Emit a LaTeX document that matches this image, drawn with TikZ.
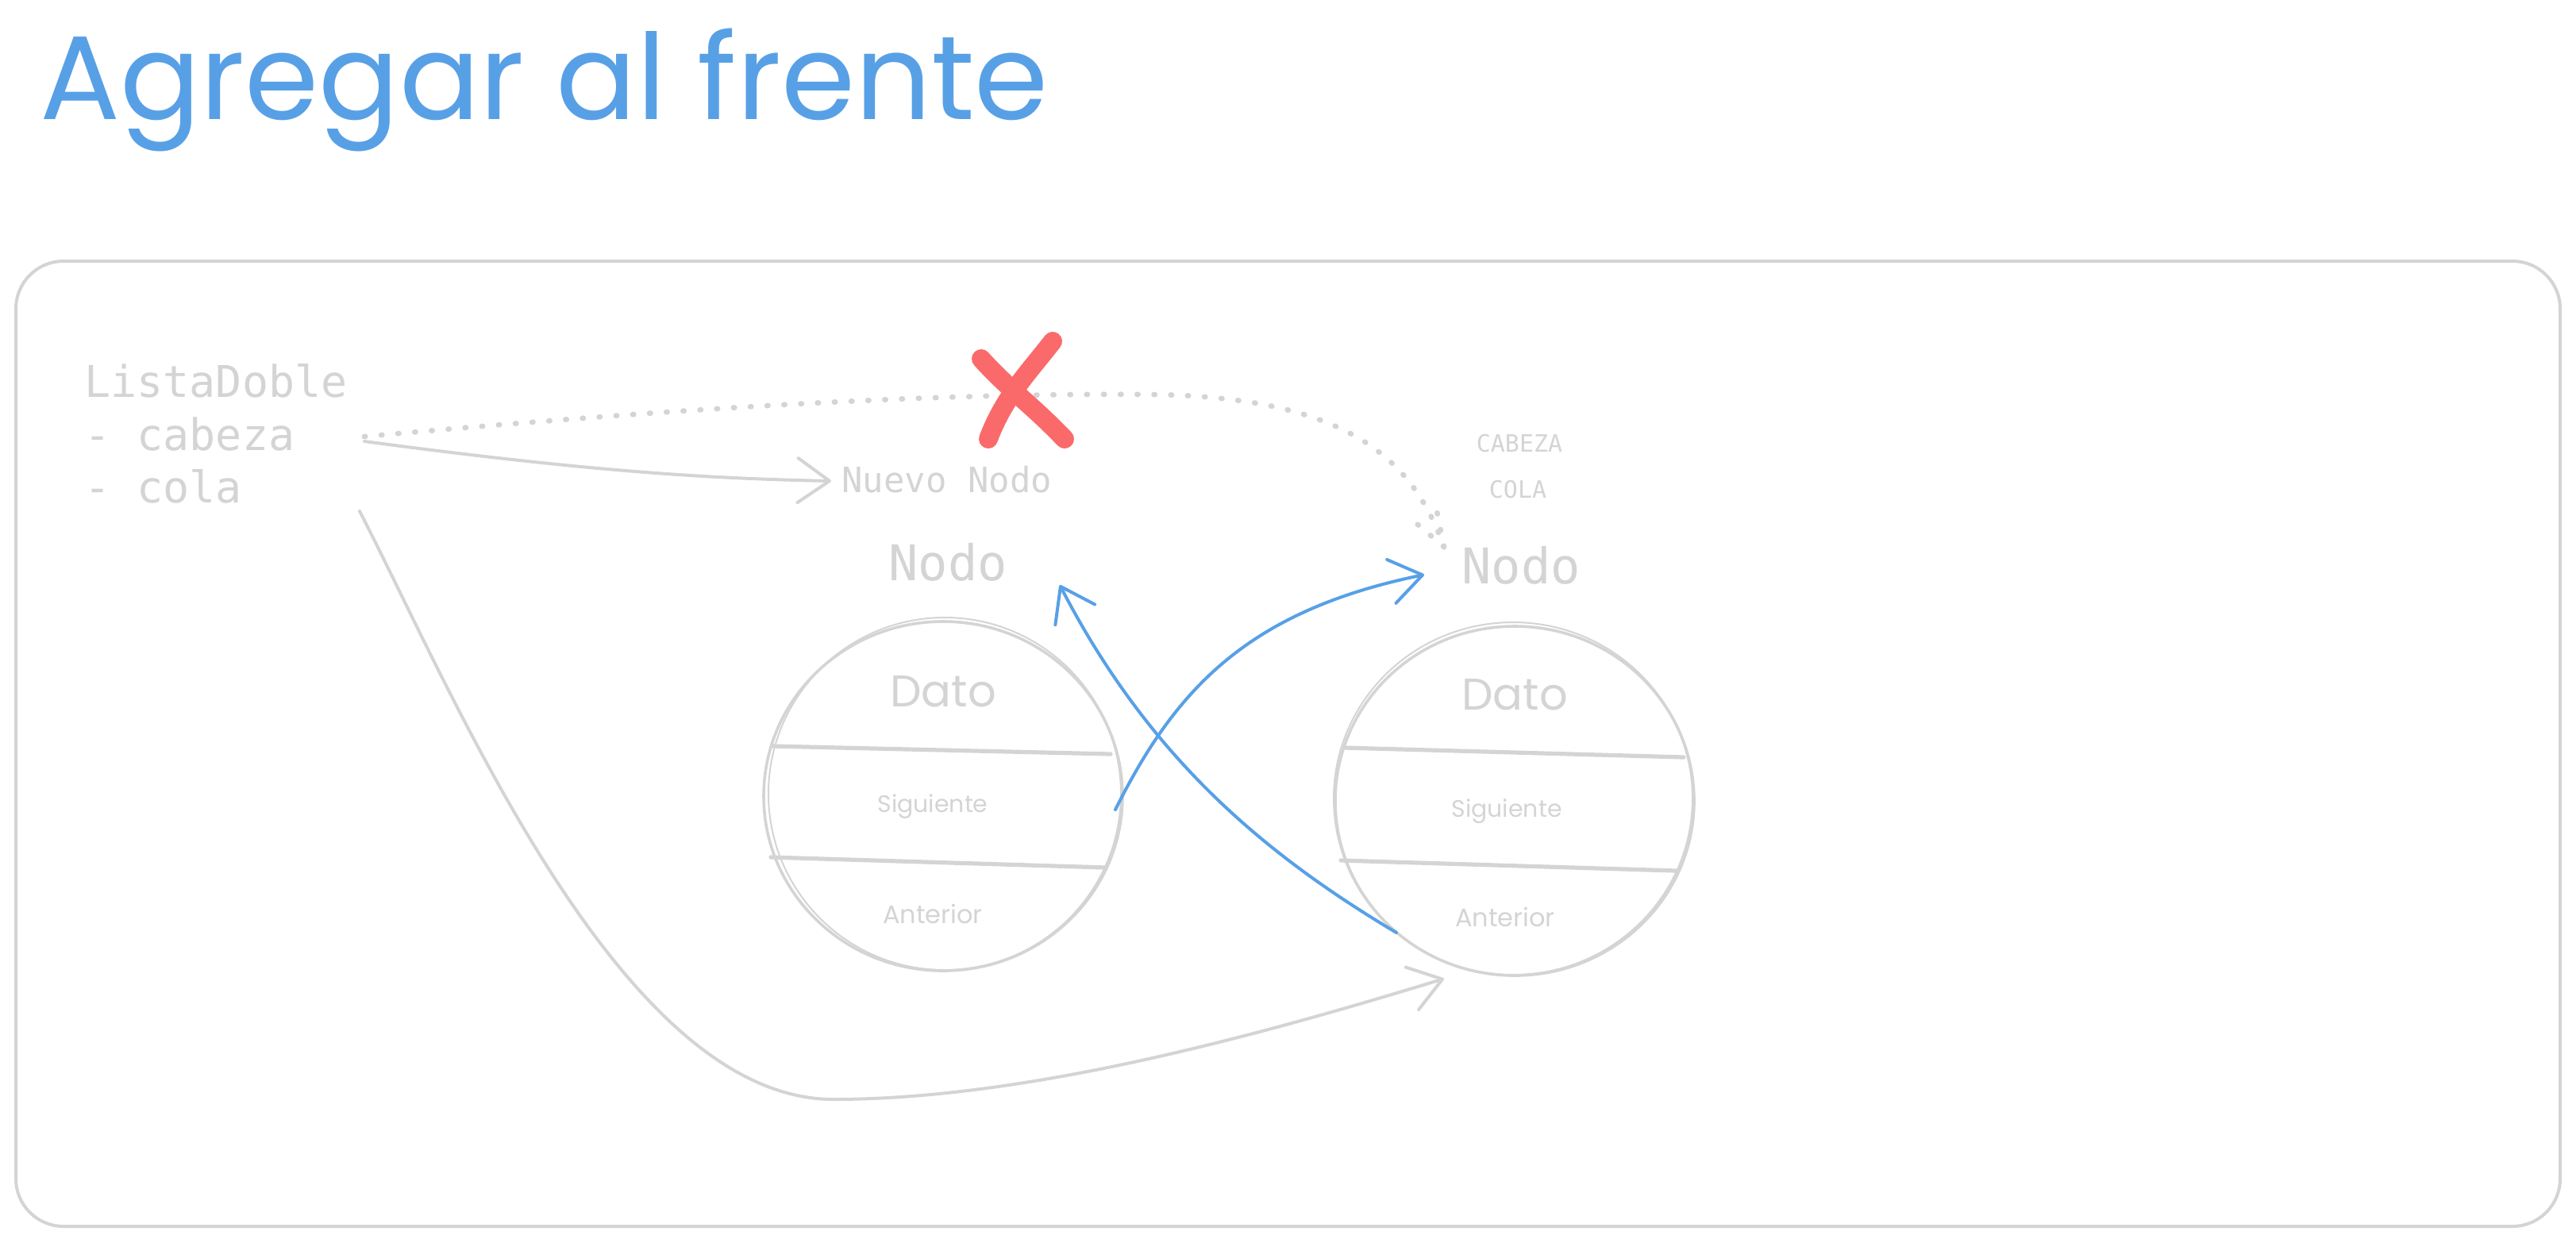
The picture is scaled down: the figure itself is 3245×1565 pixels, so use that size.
\documentclass[tikz,border=0pt]{standalone}
\usepackage{fontspec}
\usetikzlibrary{arrows.meta,shapes.geometric}
\newfontfamily\handfont{Poppins}
\newfontfamily\codefont{DejaVu Sans Mono}
\definecolor{lg}{RGB}{212,212,212}
\definecolor{bl}{RGB}{88,160,230}
\definecolor{rd}{RGB}{250,106,106}
\begin{document}
\begin{tikzpicture}[x=0.5pt,y=-0.5pt,
  frame/.style={draw=lg,line width=2pt,rounded corners=30pt},
  nodeell/.style={ellipse,draw=lg,line width=1.8pt,minimum width=226pt,minimum height=220pt,inner sep=0pt},
  sketch/.style={draw=lg,line width=1pt},
  divider/.style={draw=lg,line width=2.6pt,line cap=round},
  codetxt/.style={text=lg,inner sep=0pt,font=\codefont\fontsize{#1}{#1}\selectfont},
  handtxt/.style={text=lg,inner sep=0pt,font=\handfont\fontsize{#1}{#1}\selectfont},
  grayarrow/.style={draw=lg,line width=2pt,line cap=round,-{Straight Barb[length=20pt,width=28pt,round]}},
  bluearrow/.style={draw=bl,line width=2pt,line cap=round,-{Straight Barb[length=20pt,width=28pt,round]}},
  dotline/.style={draw=lg,line width=3.4pt,line cap=round,dash pattern=on 0.6pt off 10pt},
  crossmark/.style={draw=rd,line width=12pt,line cap=round,line join=round}
]
\useasboundingbox (0,0) rectangle (3245,1565);

% title
\node[anchor=base west,inner sep=0pt,text=bl,font=\handfont\fontsize{75}{75}\selectfont] (title) at (50,150) {Agregar al frente};

% frame
\draw[frame] (20,329) rectangle (3225,1545);

% list
\node[codetxt=27.5,anchor=base west] (lista) at (106,500) {ListaDoble};
\node[codetxt=27.5,anchor=base west] (cab) at (106,567) {- cabeza};
\node[codetxt=27.5,anchor=base west] (col) at (106,633) {- cola};

\coordinate (cabOut) at (459,556);
\coordinate (cabDot) at (459,550);
\coordinate (colOut) at (453,644);

% labels
\node[codetxt=22,anchor=west] (nuevo) at (1060,604) {Nuevo Nodo};
\node[codetxt=31] (nodoA) at (1194,708) {Nodo};
\node[codetxt=31] (nodoB) at (1916,712) {Nodo};
\node[codetxt=15] (cabeza) at (1914,559) {CABEZA};
\node[codetxt=15] (cola) at (1912,617) {COLA};

% node ellipses
\node[nodeell] (e1) at (1188,1003) {};
\node[nodeell] (e2) at (1908,1009) {};
\draw[sketch] (1190,1000) ellipse [x radius=111pt, y radius=111pt];
\draw[sketch] (1906,1006) ellipse [x radius=113pt, y radius=111pt];

\draw[divider] (973,940) -- (1399,950);
\draw[divider] (971,1080) -- (1393,1093);
\draw[divider] (1693,942) -- (2121,954);
\draw[divider] (1689,1084) -- (2111,1097);

\node[handtxt=28] (dato1) at (1188,871) {Dato};
\node[handtxt=15] (sig1) at (1175,1016) {Siguiente};
\node[handtxt=16] (ant1) at (1175,1151) {Anterior};
\node[handtxt=28] (dato2) at (1908,875) {Dato};
\node[handtxt=15] (sig2) at (1898,1022) {Siguiente};
\node[handtxt=16] (ant2) at (1896,1155) {Anterior};

% connector anchors
\coordinate (nuevoIn) at (1047,606);
\coordinate (dotEnd) at (1819,689);
\coordinate (sigOut) at (1405,1020);
\coordinate (nodoBIn) at (1794,724);
\coordinate (antOut) at (1759,1175);
\coordinate (nodoAIn) at (1335,737);
\coordinate (e2In) at (1819,1233);

% cabeza -> Nuevo Nodo
\draw[grayarrow] (cabOut) .. controls (750,595) and (900,603) .. (nuevoIn);

% dotted old cabeza link
\draw[dotline] (cabDot) .. controls (900,510) and (1200,495) .. (1450,497)
  .. controls (1700,500) and (1780,580) .. (dotEnd);
\draw[dotline] (dotEnd) -- ++(-40,-34);
\draw[dotline] (dotEnd) -- ++(-10,-50);

% red cross
\draw[crossmark] (1236,452) .. controls (1270,490) and (1300,510) .. (1341,553);
\draw[crossmark] (1326,430) .. controls (1295,470) and (1265,500) .. (1245,553);

% cola -> second node
\draw[grayarrow] (colOut) .. controls (570,870) and (780,1385) .. (1050,1385)
  .. controls (1300,1385) and (1600,1300) .. (e2In);

% blue links
\draw[bluearrow] (sigOut) .. controls (1480,870) and (1570,770) .. (nodoBIn);
\draw[bluearrow] (antOut) .. controls (1600,1080) and (1450,960) .. (nodoAIn);
\end{tikzpicture}
\end{document}
